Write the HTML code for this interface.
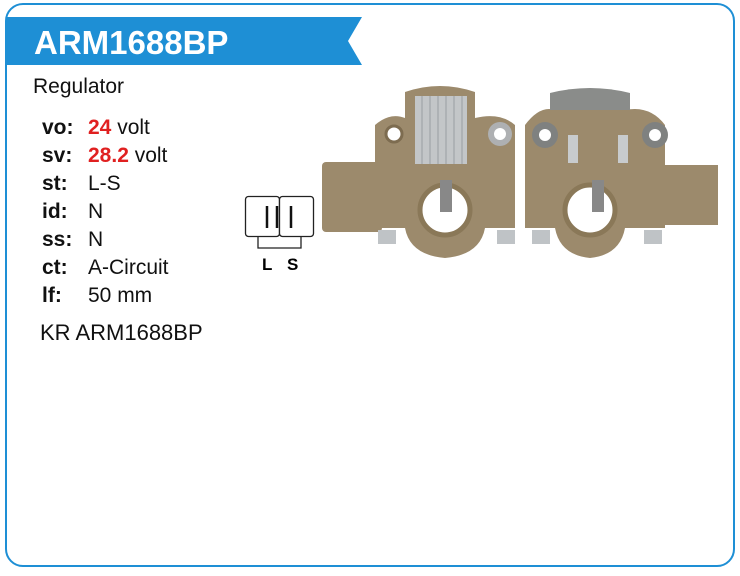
<!DOCTYPE html>
<html><head><meta charset="utf-8"><style>
body{margin:0;width:740px;height:576px;background:#fff;font-family:"Liberation Sans",Arial,sans-serif;position:relative;overflow:hidden}
.frame{position:absolute;left:5px;top:3px;width:726px;height:560px;border:2px solid #1e8fd5;border-radius:18px}
.t{position:absolute;font-size:21px;color:#111}
.k{position:absolute;font-size:21px;font-weight:bold;color:#111;left:42px}
.v{position:absolute;font-size:21px;color:#111;left:88px}
.r{color:#e02020;font-weight:bold}
</style></head><body>
<div class="frame"></div>
<svg style="position:absolute;left:0;top:0" width="740" height="576">
<polygon points="7,17 362,17 348,41 362,65 7,65" fill="#1e8fd5"/>
<text x="34" y="54" font-family="Liberation Sans,Arial,sans-serif" font-size="33" font-weight="bold" fill="#fff">ARM1688BP</text>
<rect x="245.5" y="196.5" width="34" height="40" rx="3" fill="#fff" stroke="#222" stroke-width="1.3"/>
<rect x="279.5" y="196.5" width="34" height="40" rx="3" fill="#fff" stroke="#222" stroke-width="1.3"/>
<line x1="267" y1="206" x2="267" y2="228" stroke="#111" stroke-width="2.5"/>
<line x1="277" y1="206" x2="277" y2="228" stroke="#111" stroke-width="2.5"/>
<line x1="291" y1="206" x2="291" y2="228" stroke="#111" stroke-width="2.5"/>
<polyline points="258,236 258,248 301,248 301,236" fill="none" stroke="#222" stroke-width="1.3"/>
<text x="262" y="270" font-family="Liberation Sans,Arial,sans-serif" font-size="17" font-weight="bold">L</text>
<text x="287" y="270" font-family="Liberation Sans,Arial,sans-serif" font-size="17" font-weight="bold">S</text>
<g fill="#9c8a6c">
<rect x="322" y="162" width="60" height="70" rx="4"/>
<path d="M375,125 Q390,112 405,118 L405,92 Q440,80 475,92 L475,118 Q500,112 515,125 L515,228 L485,228 Q480,255 445,258 Q410,255 405,228 L375,228 Z"/>
</g>
<rect x="415" y="96" width="52" height="68" fill="#c3c6c8"/>
<g stroke="#9a9ea2" stroke-width="1"><line x1="422" y1="96" x2="422" y2="164"/><line x1="430" y1="96" x2="430" y2="164"/><line x1="438" y1="96" x2="438" y2="164"/><line x1="446" y1="96" x2="446" y2="164"/><line x1="454" y1="96" x2="454" y2="164"/><line x1="462" y1="96" x2="462" y2="164"/></g>
<circle cx="445" cy="210" r="25" fill="#fff" stroke="#8a7858" stroke-width="5"/>
<circle cx="394" cy="134" r="8" fill="#fff" stroke="#7d6c50" stroke-width="3"/>
<circle cx="500" cy="134" r="12" fill="#aeb0b2"/><circle cx="500" cy="134" r="6" fill="#fff"/>
<rect x="440" y="180" width="12" height="32" fill="#888"/>
<rect x="378" y="230" width="18" height="14" fill="#bfc3c6"/><rect x="497" y="230" width="18" height="14" fill="#bfc3c6"/>
<g fill="#9c8a6c">
<path d="M525,125 Q540,105 555,110 L555,93 Q590,85 625,93 L625,110 Q650,105 665,125 L665,165 L718,165 L718,225 L665,225 L665,228 L625,228 Q620,255 590,258 Q560,255 555,228 L525,228 Z"/>
</g>
<path d="M550,93 Q590,83 630,93 L630,110 L550,110 Z" fill="#8a8c8a"/>
<circle cx="545" cy="135" r="13" fill="#7f8180"/><circle cx="545" cy="135" r="6" fill="#fff"/>
<circle cx="655" cy="135" r="13" fill="#7f8180"/><circle cx="655" cy="135" r="6" fill="#fff"/>
<circle cx="590" cy="210" r="25" fill="#fff" stroke="#8a7858" stroke-width="5"/>
<rect x="592" y="180" width="12" height="32" fill="#888"/>
<rect x="568" y="135" width="10" height="28" fill="#c8cbcd"/><rect x="618" y="135" width="10" height="28" fill="#c8cbcd"/>
<rect x="532" y="230" width="18" height="14" fill="#bfc3c6"/><rect x="644" y="230" width="18" height="14" fill="#bfc3c6"/>
</svg>
<div class="t" style="left:33px;top:75px">Regulator</div>
<div class="k" style="top:116px">vo:</div><div class="v" style="top:116px"><span class="r">24</span> volt</div>
<div class="k" style="top:144px">sv:</div><div class="v" style="top:144px"><span class="r">28.2</span> volt</div>
<div class="k" style="top:172px">st:</div><div class="v" style="top:172px">L-S</div>
<div class="k" style="top:200px">id:</div><div class="v" style="top:200px">N</div>
<div class="k" style="top:228px">ss:</div><div class="v" style="top:228px">N</div>
<div class="k" style="top:256px">ct:</div><div class="v" style="top:256px">A-Circuit</div>
<div class="k" style="top:284px">lf:</div><div class="v" style="top:284px">50 mm</div>
<div class="t" style="left:40px;top:320px;font-size:22px">KR ARM1688BP</div>
</body></html>
